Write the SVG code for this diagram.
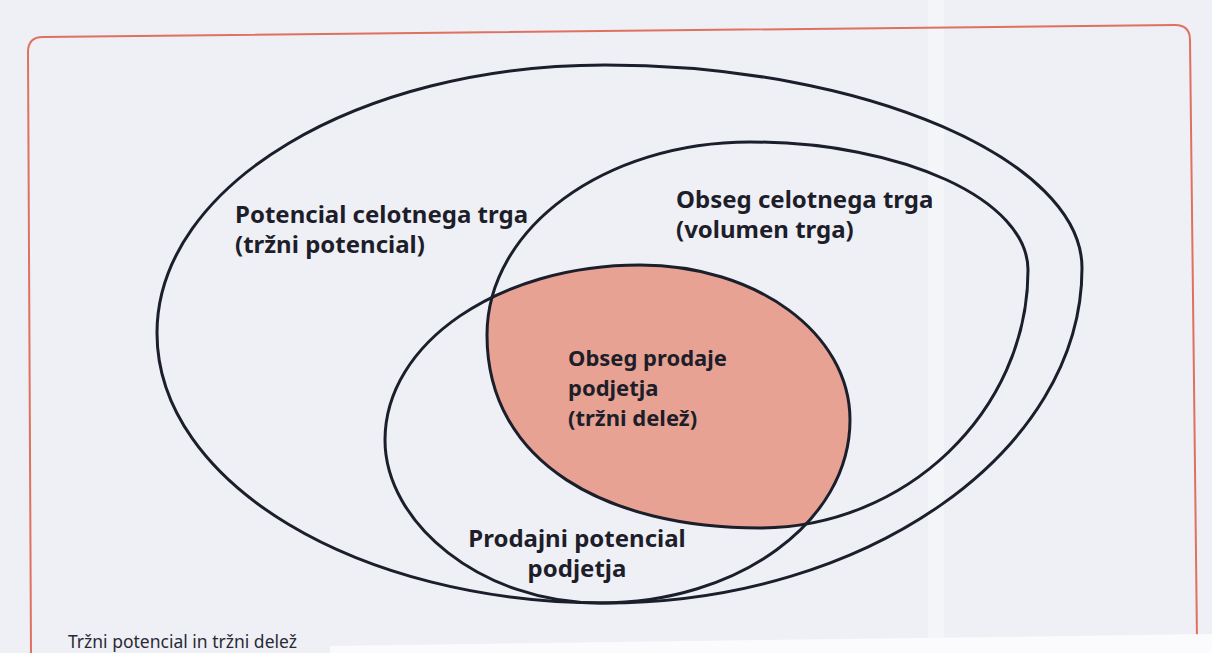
<svg xmlns="http://www.w3.org/2000/svg" width="1212" height="653" viewBox="0 0 1212 653">
<defs>
<style>
.bg{fill:#eef0f6}
.ring{fill:none;stroke:#1b1f2b;stroke-width:3}
.lbl{font-family:"Noto Sans","Open Sans","Liberation Sans",sans-serif;font-weight:bold;font-size:24px;fill:#1e1e2a}
.sm{font-size:22px}
.cap{font-family:"Noto Sans","Open Sans","Liberation Sans",sans-serif;font-size:17.5px;fill:#2a2a35}
.frame{fill:none;stroke:#e0705f;stroke-width:2}
</style>
<path id="shapeB" d="M487,335 C487,228 605,142 750,142 C903,142 1028,200 1028,270 C1028,412 905,528 760,528 C608,528 487,464 487,335 Z"/>
<path id="shapeD" d="M385,440 C385,343 499,265 640,265 C756,265 850,333 850,420 C850,522 738,603 600,603 C481,603 385,523 385,440 Z"/>
<clipPath id="clipB"><use href="#shapeB"/></clipPath>
</defs>
<rect class="bg" x="0" y="0" width="1212" height="653"/>
<rect x="928" y="0" width="16" height="653" fill="#f4f5f9"/>
<path class="frame" d="M31,653 L28,52 Q28,37 43,37 L1175,25 Q1190,25 1190,40 L1197,640"/>
<polygon points="330,653 330,646 1212,634 1212,653" fill="#fbfbfd"/>
<g id="connectors"></g>
<g id="node-trzni-potencial">
<path class="ring" d="M157,333 C157,185 358,65 605,65 C868,65 1082,161 1082,268 C1082,451 868,603 605,603 C358,603 157,483 157,333 Z"/>
<text class="lbl" x="235" y="223">Potencial celotnega trga</text>
<text class="lbl" x="235" y="253">(tržni potencial)</text>
</g>
<g id="node-trzni-delez">
<use href="#shapeD" fill="#e7a293" clip-path="url(#clipB)"/>
</g>
<g id="node-volumen-trga">
<use href="#shapeB" class="ring"/>
<text class="lbl" x="676" y="208">Obseg celotnega trga</text>
<text class="lbl" x="676" y="238">(volumen trga)</text>
</g>
<g id="node-prodajni-potencial">
<use href="#shapeD" class="ring"/>
<text class="lbl" x="577" y="547" text-anchor="middle">Prodajni potencial</text>
<text class="lbl" x="577" y="577" text-anchor="middle">podjetja</text>
</g>
<g id="node-obseg-prodaje">
<text class="lbl sm" x="568" y="366">Obseg prodaje</text>
<text class="lbl sm" x="568" y="396">podjetja</text>
<text class="lbl sm" x="568" y="426">(tržni delež)</text>
</g>
<text class="cap" x="68" y="648">Tržni potencial in tržni delež</text>
</svg>
